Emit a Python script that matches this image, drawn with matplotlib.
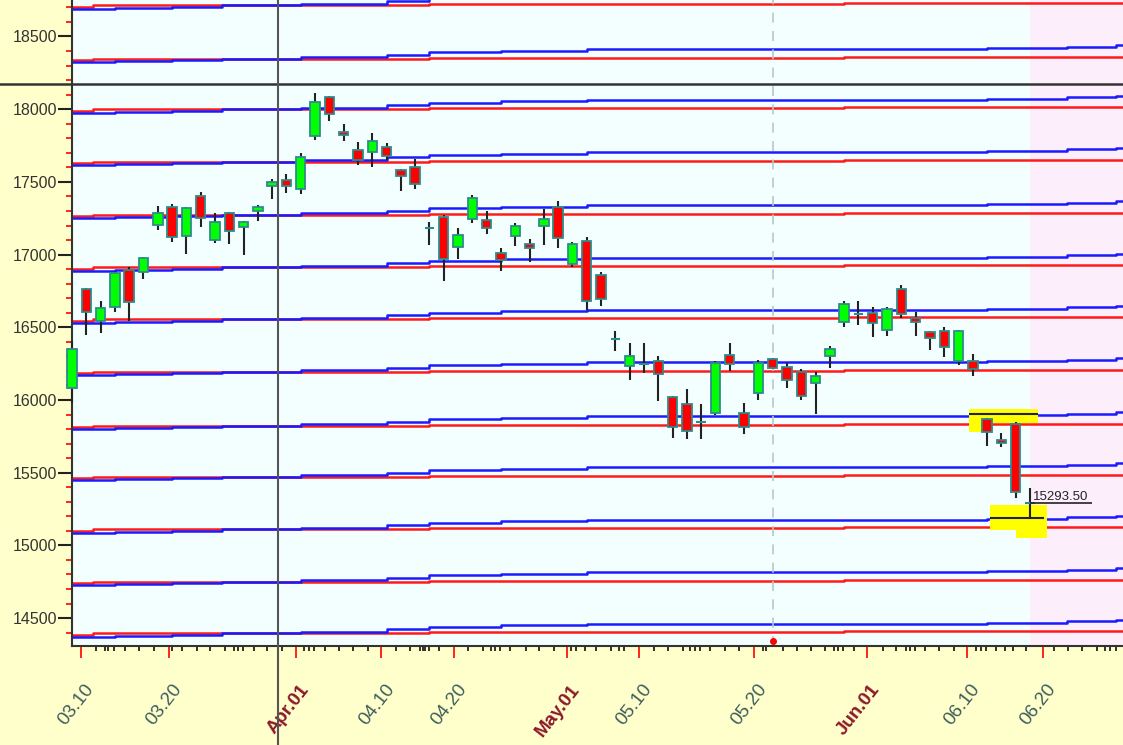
import matplotlib
matplotlib.use('Agg')
import matplotlib.pyplot as plt
from matplotlib.patches import Rectangle
from matplotlib.ticker import MultipleLocator, FixedLocator, NullFormatter

plt.rcParams['font.family'] = ['Liberation Sans', 'DejaVu Sans']

# daily candles (one per trading day, bar index = position in list)
opens = [16080, 16761, 16541, 16637, 16894, 16880, 17206, 17325, 17128, 17403,
         17100, 17284, 17188, 17300, 17472, 17515, 17449, 17816, 18086, 17845,
         17719, 17706, 17738, 17582, 17600, 17181, 17256, 17054, 17243, 17238,
         17009, 17130, 17071, 17197, 17330, 16933, 17091, 16860, 16417, 16236,
         16245, 16268, 16018, 15972, 15850, 15913, 16309, 15913, 16046, 16284,
         16225, 16195, 16115, 16302, 16534, 16590, 16596, 16481, 16761, 16566,
         16470, 16475, 16270, 16270, 15869, 15725, 15835, 15293.5]
highs = [16408, 16770, 16683, 16880, 16917, 16980, 17336, 17346, 17325, 17433,
         17284, 17290, 17232, 17341, 17518, 17554, 17701, 18113, 18090, 17898,
         17776, 17838, 17770, 17588, 17655, 17226, 17272, 17181, 17410, 17302,
         17043, 17215, 17105, 17311, 17371, 17085, 17123, 16880, 16477, 16394,
         16394, 16302, 16027, 16076, 15972, 16270, 16394, 15981, 16275, 16290,
         16257, 16211, 16195, 16371, 16683, 16683, 16642, 16642, 16791, 16607,
         16475, 16504, 16480, 16314, 15875, 15771, 15851, 15392]
lows = [15981, 16445, 16463, 16603, 16545, 16834, 17169, 17089, 17004, 17192,
        17082, 17073, 16995, 17229, 17384, 17426, 17419, 17788, 17917, 17779,
        17616, 17600, 17651, 17437, 17451, 17066, 16818, 16968, 17215, 17142,
        16889, 17059, 16951, 17066, 17047, 16917, 16619, 16646, 16337, 16137,
        16188, 15993, 15741, 15729, 15735, 15897, 16201, 15766, 16000, 16212,
        16080, 16000, 15904, 16218, 16500, 16516, 16431, 16440, 16566, 16440,
        16344, 16294, 16241, 16165, 15683, 15679, 15328, 15186]
closes = [16349, 16605, 16630, 16873, 16674, 16974, 17284, 17121, 17318, 17250,
          17226, 17162, 17226, 17330, 17499, 17472, 17669, 18049, 17965, 17820,
          17651, 17783, 17680, 17543, 17483, 17181, 16968, 17135, 17387, 17183,
          16963, 17199, 17047, 17243, 17114, 17073, 16683, 16692, 16417, 16302,
          16245, 16177, 15816, 15789, 15850, 16257, 16245, 15814, 16257, 16218,
          16137, 16027, 16165, 16349, 16658, 16590, 16532, 16624, 16589, 16534,
          16424, 16366, 16477, 16211, 15778, 15702, 15369, 15293.5]
last_price = 15293.50

# red / blue support-resistance ladder (value at left edge)
grid_levels = [18705, 18338, 17990, 17630, 17265, 16903, 16545, 16184,
               15814, 15461, 15101, 14739, 14384]
red_steps = [0, 1.5, 25, 54, 75]
red_shift = [0, 10, 17, 24, 24]
blue_steps = [0, 3, 7, 10.5, 16, 22, 25, 30, 36, 64, 69.6, 73, 75]
blue_shift = [-14, -7, 0, 10, 21, 38, 55, 65, 76, 83, 93, 103, 103]

# date axis
date_pos = [0.65, 6.78, 15.69, 21.64, 26.73, 34.6, 39.64, 47.68, 55.62, 62.6, 67.9]
date_labels = ['03.10', '03.20', 'Apr.01', '04.10', '04.20', 'May.01',
               '05.10', '05.20', 'Jun.01', '06.10', '06.20']
day_ticks = [1.71, 2.31, 2.52, 2.94, 3.71, 4.69, 5.73, 6.97, 7.67, 8.71, 9.68,
             10.72, 11.33, 11.64, 11.93, 12.73, 13.65, 14.67, 16.25, 16.59, 16.89,
             17.69, 18.67, 19.68, 20.67, 22.69, 23.65, 24.36, 24.53, 24.69, 24.98,
             25.64, 27.69, 28.71, 29.3, 29.58, 29.92, 30.65, 31.74, 32.64, 33.73,
             34.9, 35.24, 35.86, 36.68, 37.66, 38.26, 38.57, 40.71, 41.65, 42.71,
             43.25, 43.59, 43.9, 44.63, 45.69, 46.62, 48.31, 48.55, 49.71, 50.69,
             51.68, 52.67, 53.27, 53.59, 53.9, 54.68, 56.71, 57.66, 58.31, 58.62,
             58.94, 59.66, 60.61, 61.68, 63.24, 63.59, 63.95, 64.65, 65.26, 65.84,
             66.69, 68.65, 69.66, 70.66, 71.67, 72.27, 72.62, 72.99]

cursor_bar, cursor_price = 14.38, 18170
marker_bar, marker_price = 49, 14339
gap_top = (15903.5, 62.7, 67.55)
gap_bottom = (15188, 64.2, 68.0)

fig = plt.figure(figsize=(11.23, 7.45), dpi=100, facecolor='#ffffcc')
ax = fig.add_axes([71.7 / 1123, 99 / 745, 1 - 71.7 / 1123, 646 / 745])
ax.set_facecolor('#f3ffff')
ax.set_xlim(-0.02, 73.5)
ax.set_ylim(14308, 18751)
for s in ['top', 'right']:
    ax.spines[s].set_visible(False)
for s in ['left', 'bottom']:
    ax.spines[s].set_color('#333333')
    ax.spines[s].set_linewidth(1.5)

ax.axvspan(67, 75, color='#fdeefc', zorder=0, lw=0)

# ladder lines
for lv in grid_levels:
    ax.step(red_steps, [lv + s for s in red_shift], where='post', color='#ff1a1a', lw=1.8, zorder=1)
    ax.step(blue_steps, [lv + s for s in blue_shift], where='post', color='#1a1aff', lw=1.8, zorder=1)

# highlighted gap boxes
ax.add_patch(Rectangle((62.7, 15843), 4.85, 95, color='#ffff00', lw=0, zorder=2))
ax.add_patch(Rectangle((62.7, 15780), 1.3, 63, color='#ffff00', lw=0, zorder=2))
ax.add_patch(Rectangle((64.2, 15106), 4.0, 172, color='#ffff00', lw=0, zorder=2))
ax.add_patch(Rectangle((66.0, 15053), 2.2, 53, color='#ffff00', lw=0, zorder=2))
ax.hlines(gap_top[0], gap_top[1], gap_top[2], color='#222222', lw=1.5, zorder=3)
ax.hlines(gap_bottom[0], gap_bottom[1], gap_bottom[2], color='#222222', lw=1.5, zorder=3)

# candles
w = 0.66
for i in range(len(opens)):
    o, h, l, c = opens[i], highs[i], lows[i], closes[i]
    ax.vlines(i, l, h, color='#222222', lw=1.5, zorder=4, clip_on=False)
    if o == c:
        ax.hlines(c, i - w / 2, i + w / 2, color='#2e8b8b', lw=1.5, zorder=5, clip_on=False)
    else:
        col = '#00ff00' if c > o else '#ff0000'
        ax.add_patch(Rectangle((i - w / 2, min(o, c)), w, abs(c - o), facecolor=col,
                               edgecolor='#2e8b8b', lw=1.3, zorder=5, clip_on=False))

# last price label
ax.text(67.2, 15312, '%.2f' % last_price, fontsize=9.5, color='#222222', ha='left', va='baseline', zorder=6)
ax.hlines(last_price, 67, 71.3, color='#222222', lw=1.2, zorder=6)

# cursor crosshair and marker
ax.axhline(cursor_price, xmin=-0.07, xmax=1, color='#333333', lw=1.8, clip_on=False, zorder=6)
ax.axvline(cursor_bar, ymin=-0.16, ymax=1, color='#555555', lw=1.5, clip_on=False, zorder=6)
ax.axvline(marker_bar, color='#b8c8c8', lw=1.2, ls=(0, (6, 5)), zorder=1)
ax.plot(marker_bar, marker_price, 'o', color='#ff0000', ms=4, clip_on=False, zorder=6)

# y axis
ax.yaxis.set_major_locator(MultipleLocator(500))
ax.yaxis.set_minor_locator(MultipleLocator(100))
ax.tick_params(axis='y', which='major', length=10, width=1.5, color='#222222',
               labelsize=11.5, labelcolor='#333333', pad=0.5)
ax.tick_params(axis='y', which='minor', length=4, width=1.2, color='#ff0000')

# x axis
ax.xaxis.set_major_locator(FixedLocator(date_pos))
ax.xaxis.set_major_formatter(NullFormatter())
ax.xaxis.set_minor_locator(FixedLocator(day_ticks))
ax.tick_params(axis='x', which='major', length=8.6, width=1.2, color='#ff0000')
ax.tick_params(axis='x', which='minor', length=3.5, width=1.2, color='#111111')
for p, lab in zip(date_pos, date_labels):
    month = lab[0].isalpha()
    ax.annotate(lab, xy=(p, 0), xycoords=('data', 'axes fraction'), xytext=(7, -29),
                textcoords='offset points', rotation=52, rotation_mode='anchor',
                ha='right', va='center', fontsize=13.5,
                color='#8b1a2b' if month else '#3d5c5c',
                fontweight='bold' if month else 'normal', annotation_clip=False)

fig.savefig('out.png', dpi=100, facecolor=fig.get_facecolor())
